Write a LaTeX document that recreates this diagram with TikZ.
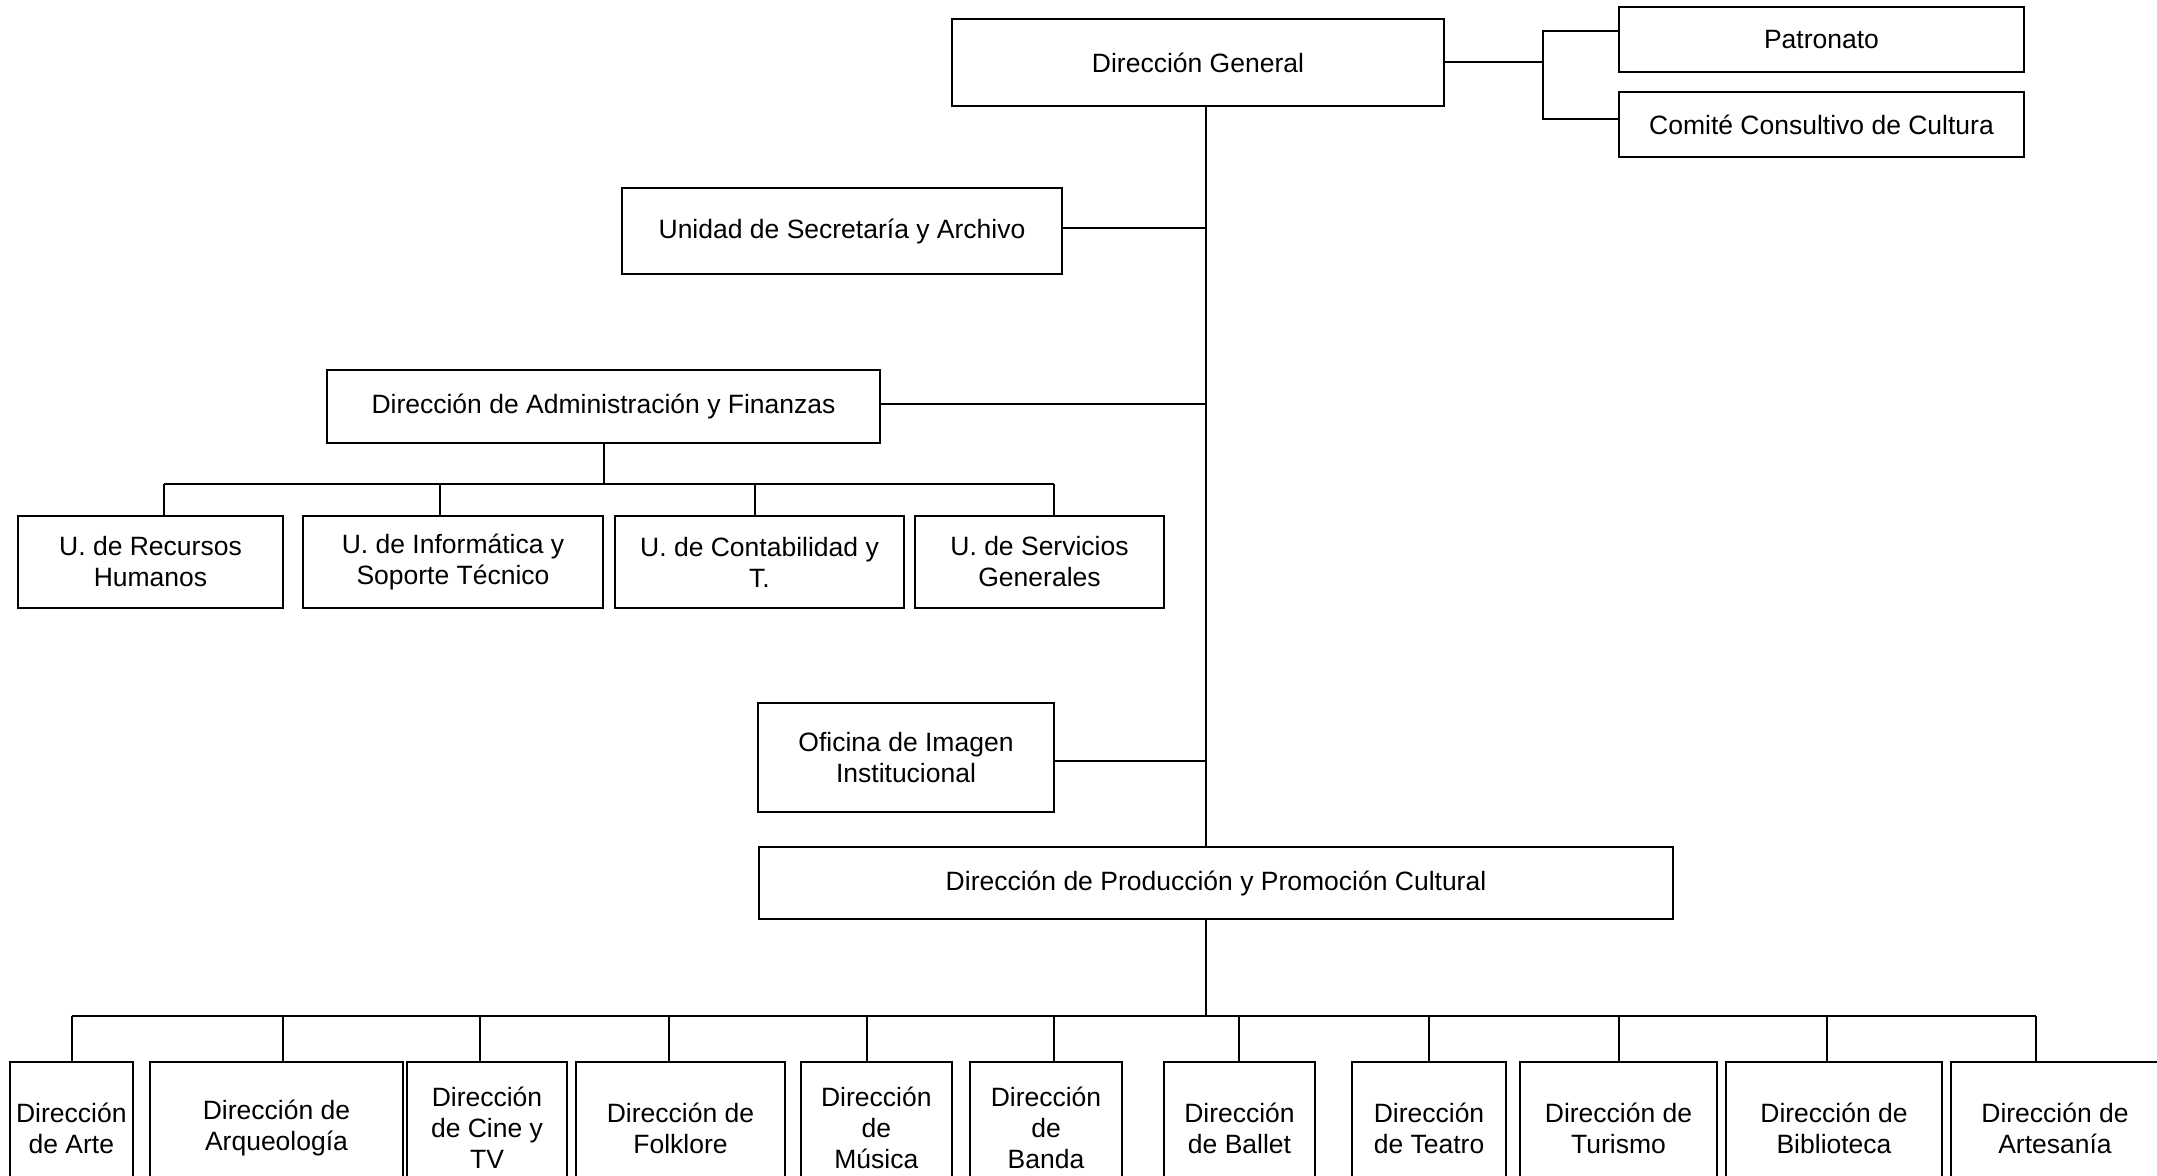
\documentclass[tikz,border=0pt]{standalone}
\usepackage{fontspec}
\setmainfont{Liberation Sans}
\begin{document}
\begin{tikzpicture}[x=0.5pt,y=-0.5pt,
    caja/.style={draw,line width=1pt,rectangle,align=center,inner sep=0pt,
      font=\fontsize{13.25}{15.5}\selectfont},
    linea/.style={line width=1pt}]
    \useasboundingbox (0,0) rectangle (2157,1176);
    \clip (0,0) rectangle (2157,1176);

    \coordinate (t) at (1206,0);
    \coordinate (br) at (1543,0);
    \coordinate (dafbus) at (0,484);
    \coordinate (prodbus) at (0,1016);

    \node[caja,minimum width=246pt,minimum height=43.5pt] (dg) at (1198,62.5) {Dirección General};
    \node[caja,minimum width=202.5pt,minimum height=32.5pt] (pat) at (1821.5,40) {Patronato};
    \node[caja,minimum width=202.5pt,minimum height=32.5pt] (ccc) at (1821.5,125) {Comité Consultivo de Cultura};
    \node[caja,minimum width=220pt,minimum height=43pt] (usa) at (842,231) {Unidad de Secretaría y Archivo};
    \node[caja,minimum width=276.5pt,minimum height=36.5pt] (daf) at (603.5,406.5) {Dirección de Administración y Finanzas};

    \node[caja,minimum width=132.5pt,minimum height=46pt] (rh) at (150.5,562) {U. de Recursos\\Humanos};
    \node[caja,minimum width=150pt,minimum height=46pt] (inf) at (453,562) {U. de Informática y\\Soporte Técnico};
    \node[caja,minimum width=144.5pt,minimum height=46pt] (con) at (759.5,562) {U. de Contabilidad y\\T.};
    \node[caja,minimum width=124.5pt,minimum height=46pt] (ser) at (1039.5,562) {U. de Servicios\\Generales};

    \node[caja,minimum width=148pt,minimum height=54.5pt] (oii) at (906,757.5) {Oficina de Imagen\\Institucional};
    \node[caja,minimum width=457pt,minimum height=36pt] (dppc) at (1216,883) {Dirección de Producción y Promoción Cultural};

    \foreach \n/\cx/\w/\t in {arte/71.3/61.7/{Dirección\\de Arte},
        arq/276.5/126.5/{Dirección de\\Arqueología},
        cine/487/80/{Dirección\\de Cine y\\TV},
        folk/680.5/104.5/{Dirección de\\Folklore},
        mus/876.3/75.7/{Dirección\\de\\Música},
        banda/1046/76.25/{Dirección\\de\\Banda},
        ballet/1239.5/75.5/{Dirección\\de Ballet},
        teatro/1429/77/{Dirección\\de Teatro},
        tur/1618.5/98.5/{Dirección de\\Turismo},
        bib/1834/108/{Dirección de\\Biblioteca},
        artes/2055/104/{Dirección de\\Artesanía}}
        \node[caja,minimum width=\w pt,minimum height=66pt] (\n) at (\cx,1128) {\t};

    \draw[linea] (dg.east) -- (dg.east -| br);
    \draw[linea] ([yshift=4.5pt]pat.west) -- ([yshift=4.5pt]pat.west -| br) -- ([yshift=3pt]ccc.west -| br) -- ([yshift=3pt]ccc.west);

    \draw[linea] (dg.south -| t) -- (dppc.north -| t);
    \draw[linea] ([yshift=1.5pt]usa.east) -- ([yshift=1.5pt]usa.east -| t);
    \draw[linea] ([yshift=1.25pt]daf.east) -- ([yshift=1.25pt]daf.east -| t);
    \draw[linea] ([yshift=-1.5pt]oii.east) -- ([yshift=-1.5pt]oii.east -| t);

    \draw[linea] (daf.south) -- (daf.south |- dafbus);
    \draw[linea] (164,484) -- (1054,484);
    \foreach \n/\x in {rh/164,inf/440,con/755,ser/1054}
        \draw[linea] (\x,484) -- (\n.north -| \x,0);

    \draw[linea] (dppc.south -| t) -- (t |- prodbus);
    \draw[linea] (71.5,1016) -- (2036,1016);
    \foreach \n/\x in {arte/71.5,arq/283,cine/480,folk/668.5,mus/866.6,banda/1054,
        ballet/1239,teatro/1429,tur/1619,bib/1827,artes/2036}
        \draw[linea] (\x,1016) -- (\n.north -| \x,0);
\end{tikzpicture}
\end{document}
